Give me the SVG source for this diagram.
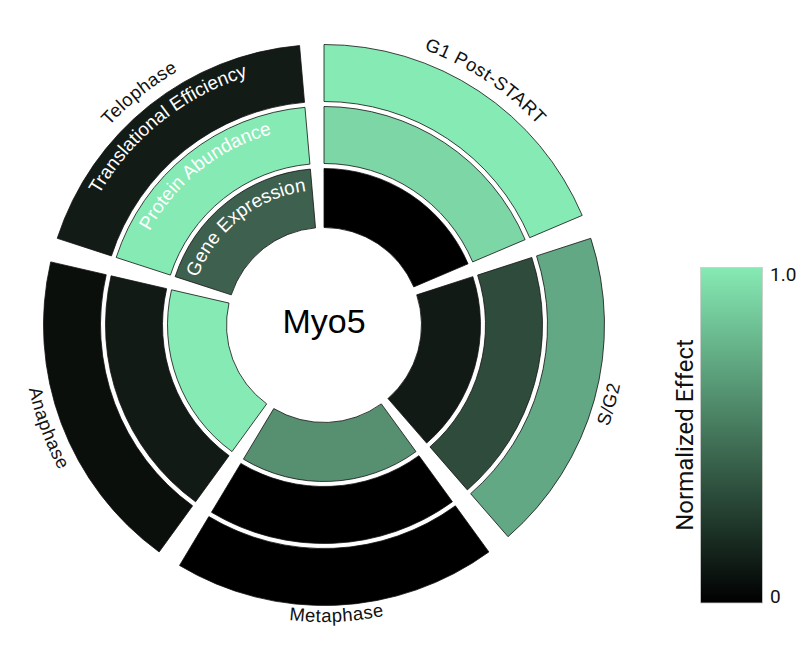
<svg xmlns="http://www.w3.org/2000/svg" width="800" height="650" viewBox="0 0 800 650">
<style>
.seg{stroke:#111;stroke-width:0.8}
.phase{font-family:"Liberation Sans",Arial,sans-serif;font-size:18.5px;fill:#111;letter-spacing:0.5px}
.ring{font-family:"Liberation Sans",Arial,sans-serif;font-size:19px;fill:#fff}
.cb{font-family:Roboto,"Liberation Sans",sans-serif;fill:#111}
</style>
<defs>
<linearGradient id="cmap" x1="0" y1="1" x2="0" y2="0">
<stop offset="0" stop-color="#000000"/>
<stop offset="1" stop-color="#86EAB4"/>
</linearGradient>
<path id="pTelo" d="M31.1,317.33 A293,293 0 0 1 382.42,37.88"/>
<path id="pG1" d="M240.78,44.07 A293,293 0 0 1 615.12,291.83"/>
<path id="pSG2" d="M449.24,599.81 A302,302 0 0 0 572.89,153.94"/>
<path id="pMeta" d="M105.03,525.65 A297,297 0 0 0 559.62,505.8"/>
<path id="pAna" d="M61.15,176.29 A302,302 0 0 0 223.19,609.68"/>
<path id="pTE" d="M64.09,318.19 A260,260 0 0 1 375.84,70.22"/>
<path id="pPA" d="M126.07,319.82 A198,198 0 0 1 363.48,130.98"/>
<path id="pGE" d="M189.05,321.47 A135,135 0 0 1 350.91,192.71"/>
</defs>
<rect width="800" height="650" fill="#fff"/>
<g id="g1-post-start">
<path class="seg" fill="#000000" d="M324,168.5 A156.5,156.5 0 0 1 468.06,263.85 L413.75,286.9 A97.5,97.5 0 0 0 324,227.5Z"/>
<path class="seg" fill="#7DD6A6" d="M324,106.5 A218.5,218.5 0 0 1 525.13,239.63 L472.66,261.9 A161.5,161.5 0 0 0 324,163.5Z"/>
<path class="seg" fill="#86EAB4" d="M324,44.5 A280.5,280.5 0 0 1 582.2,215.4 L529.73,237.67 A223.5,223.5 0 0 0 324,101.5Z"/>
<text class="phase"><textPath href="#pG1" startOffset="50%" text-anchor="middle">G1 Post-START</textPath></text>
</g>
<g id="s-g2">
<path class="seg" fill="#121A16" d="M472.84,276.64 A156.5,156.5 0 0 1 426.67,443.11 L387.97,398.58 A97.5,97.5 0 0 0 416.73,294.87Z"/>
<path class="seg" fill="#2F4B3C" d="M531.81,257.48 A218.5,218.5 0 0 1 467.35,489.9 L429.95,446.89 A161.5,161.5 0 0 0 477.6,275.09Z"/>
<path class="seg" fill="#62A884" d="M590.77,238.32 A280.5,280.5 0 0 1 508.02,536.7 L470.63,493.68 A223.5,223.5 0 0 0 536.56,255.93Z"/>
<text class="phase"><textPath href="#pSG2" startOffset="50%" text-anchor="middle">S/G2</textPath></text>
</g>
<g id="metaphase">
<path class="seg" fill="#578F71" d="M415.99,451.61 A156.5,156.5 0 0 1 243.4,459.15 L273.78,408.57 A97.5,97.5 0 0 0 381.31,403.88Z"/>
<path class="seg" fill="#000000" d="M452.43,501.77 A218.5,218.5 0 0 1 211.46,512.29 L240.82,463.43 A161.5,161.5 0 0 0 418.93,455.66Z"/>
<path class="seg" fill="#000000" d="M488.87,551.93 A280.5,280.5 0 0 1 179.53,565.44 L208.89,516.58 A223.5,223.5 0 0 0 455.37,505.82Z"/>
<text class="phase"><textPath href="#pMeta" startOffset="50%" text-anchor="middle">Metaphase</textPath></text>
</g>
<g id="anaphase">
<path class="seg" fill="#86EAB4" d="M232.01,451.61 A156.5,156.5 0 0 1 171.51,289.8 L229,303.07 A97.5,97.5 0 0 0 266.69,403.88Z"/>
<path class="seg" fill="#121A16" d="M195.57,501.77 A218.5,218.5 0 0 1 111.1,275.85 L166.64,288.67 A161.5,161.5 0 0 0 229.07,455.66Z"/>
<path class="seg" fill="#0A0F0C" d="M159.13,551.93 A280.5,280.5 0 0 1 50.69,261.9 L106.23,274.72 A223.5,223.5 0 0 0 192.63,505.82Z"/>
<text class="phase"><textPath href="#pAna" startOffset="50%" text-anchor="middle">Anaphase</textPath></text>
</g>
<g id="telophase">
<path class="seg" fill="#3E604E" d="M175.16,276.64 A156.5,156.5 0 0 1 310.36,169.1 L315.5,227.87 A97.5,97.5 0 0 0 231.27,294.87Z"/>
<path class="seg" fill="#86EAB4" d="M116.19,257.48 A218.5,218.5 0 0 1 304.96,107.33 L309.92,164.12 A161.5,161.5 0 0 0 170.4,275.09Z"/>
<path class="seg" fill="#131B17" d="M57.23,238.32 A280.5,280.5 0 0 1 299.55,45.57 L304.52,102.35 A223.5,223.5 0 0 0 111.44,255.93Z"/>
<text class="phase"><textPath href="#pTelo" startOffset="50%" text-anchor="middle">Telophase</textPath></text>
<text class="ring"><textPath href="#pTE" startOffset="50%" text-anchor="middle">Translational Efficiency</textPath></text>
<text class="ring"><textPath href="#pPA" startOffset="50%" text-anchor="middle">Protein Abundance</textPath></text>
<text class="ring"><textPath href="#pGE" startOffset="50%" text-anchor="middle">Gene Expression</textPath></text>
</g>
<g id="center">
<text x="324" y="333" text-anchor="middle" font-family="'Liberation Sans',Arial,sans-serif" font-size="34" fill="#000">Myo5</text>
</g>
<g id="connectors"/>
<g id="colorbar">
<rect x="700.5" y="267.5" width="62" height="335.5" fill="url(#cmap)" stroke="#ccc" stroke-width="0.8"/>
<text class="cb" x="770" y="281" font-size="19">1.0</text>
<text class="cb" x="770" y="603" font-size="19">0</text>
<text class="cb" transform="translate(693,435) rotate(-90)" text-anchor="middle" font-size="24">Normalized Effect</text>
</g>
</svg>
